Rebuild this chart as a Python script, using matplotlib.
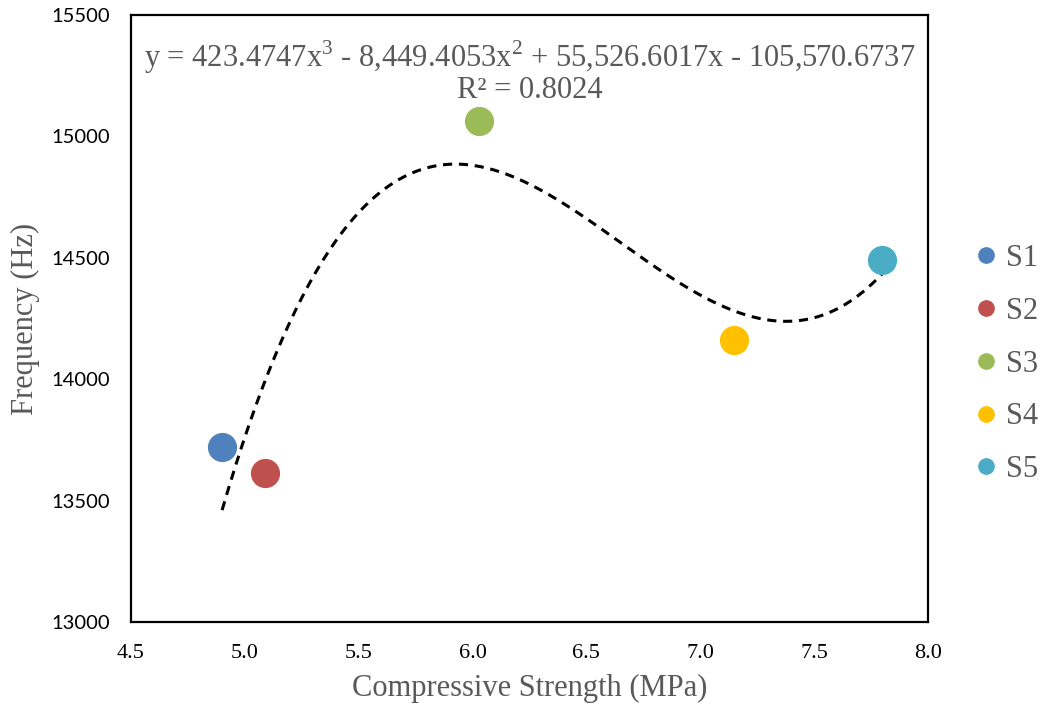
import numpy as np
import matplotlib.pyplot as plt

# data
labels = ['S1', 'S2', 'S3', 'S4', 'S5']
strength = [4.90, 5.09, 6.03, 7.15, 7.80]
freq = [13722, 13615, 15063, 14160, 14492]
colors = ['#4F81BD', '#C0504D', '#9BBB59', '#FFC000', '#4BACC6']

# cubic trendline coefficients (as shown on chart)
coef = [423.4747, -8449.4053, 55526.6017, -105570.6737]
r2 = 0.8024

GREY = '#595959'
SERIF = 'Liberation Serif'
plt.rcParams['mathtext.fontset'] = 'custom'
plt.rcParams['mathtext.rm'] = SERIF

fig = plt.figure(figsize=(10.49, 7.13), dpi=100)
ax = fig.add_axes([131/1049, 1 - 622/713, (928-131)/1049, (622-15)/713])

xs = np.linspace(min(strength), max(strength), 300)
ax.plot(xs, np.polyval(coef, xs), color='black', lw=2.2, ls=(0, (3, 2.2)), zorder=2)

for lab, x, y, c in zip(labels, strength, freq, colors):
    ax.plot(x, y, 'o', ms=20, color=c, mec=c, label=lab, zorder=3)

ax.set_xlim(4.5, 8.0)
ax.set_ylim(13000, 15500)
xt = np.arange(4.5, 8.01, 0.5)
ax.set_xticks(xt)
ax.set_xticklabels([f'{v:.1f}' for v in xt], fontfamily=SERIF, fontsize=16)
yt = list(range(13000, 15501, 500))
ax.set_yticks(yt)
ax.set_yticklabels([str(v) for v in yt], fontfamily='Lato', fontsize=14.5)
ax.tick_params(length=0)
ax.tick_params(axis='x', pad=16)
ax.tick_params(axis='y', pad=15)
for sp in ax.spines.values():
    sp.set_linewidth(1.6)
    sp.set_color('black')

ax.set_xlabel('Compressive Strength (MPa)', fontfamily=SERIF, fontsize=22,
              color=GREY, labelpad=8)
ax.set_ylabel('Frequency (Hz)', fontfamily=SERIF, fontsize=22, color=GREY)
ax.yaxis.label.set_va('center')
ax.yaxis.set_label_coords(-0.133, 0.5)

eq = (f'y = {coef[0]:,.4f}x$^3$ - {-coef[1]:,.4f}x$^2$ + {coef[2]:,.4f}x'
      f' - {-coef[3]:,.4f}\nR² = {r2:.4f}')
ax.text(0.5, 0.962, eq, transform=ax.transAxes, ha='center', va='top',
        fontfamily=SERIF, fontsize=22, color=GREY, linespacing=1.0)

leg = ax.legend(loc='center left', bbox_to_anchor=(1.027, 0.425), frameon=False,
                prop={'family': SERIF, 'size': 22}, labelcolor=GREY,
                markerscale=0.55, handlelength=0.6, handletextpad=0.35,
                labelspacing=0.78)

fig.savefig('out.png', dpi=100)
